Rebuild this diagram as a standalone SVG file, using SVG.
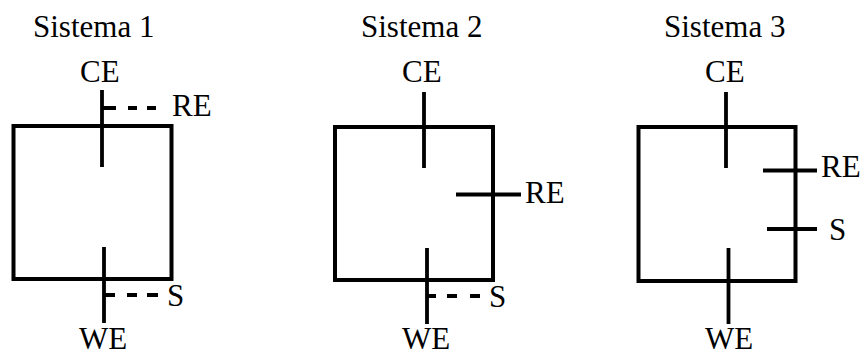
<svg xmlns="http://www.w3.org/2000/svg" width="864" height="356" viewBox="0 0 864 356">
<style>
text{font-family:"Liberation Serif","Times New Roman",serif;font-size:31px;fill:#000}
.box{fill:none;stroke:#000;stroke-width:4}
.ln{fill:none;stroke:#000;stroke-width:3.8}
</style>
<rect width="864" height="356" fill="#fff"/>
<g id="sistema1">
<text x="33" y="37">Sistema 1</text>
<rect class="box" x="13.5" y="126" width="158" height="153"/>
<text x="80" y="82">CE</text>
<text x="172" y="116">RE</text>
<text x="167" y="306">S</text>
<text x="79" y="349">WE</text>
</g>
<g id="sistema2">
<text x="361" y="37">Sistema 2</text>
<rect class="box" x="335" y="127" width="158" height="153"/>
<text x="402" y="82">CE</text>
<text x="525" y="203">RE</text>
<text x="489" y="307">S</text>
<text x="402" y="349">WE</text>
</g>
<g id="sistema3">
<text x="664" y="37">Sistema 3</text>
<rect class="box" x="638.5" y="127" width="157" height="154"/>
<text x="705" y="82">CE</text>
<text x="821" y="177">RE</text>
<text x="829" y="240">S</text>
<text x="705" y="349">WE</text>
</g>
<g id="connectors">
<path class="ln" d="M102,90 V167 M104,247 V323"/>
<path class="ln" d="M102,108 H116 M128,108 H137 M147,108 H156"/>
<path class="ln" d="M104,295 H115 M127,295 H137 M147,295 H158"/>
<path class="ln" d="M424,92 V168 M427,248 V324"/>
<path class="ln" d="M456,194.5 H521"/>
<path class="ln" d="M427,296 H436 M447,296 H457 M470,296 H480"/>
<path class="ln" d="M726,92 V168 M728.5,248 V324"/>
<path class="ln" d="M763,170.5 H817 M767,229 H817"/>
</g>
</svg>
